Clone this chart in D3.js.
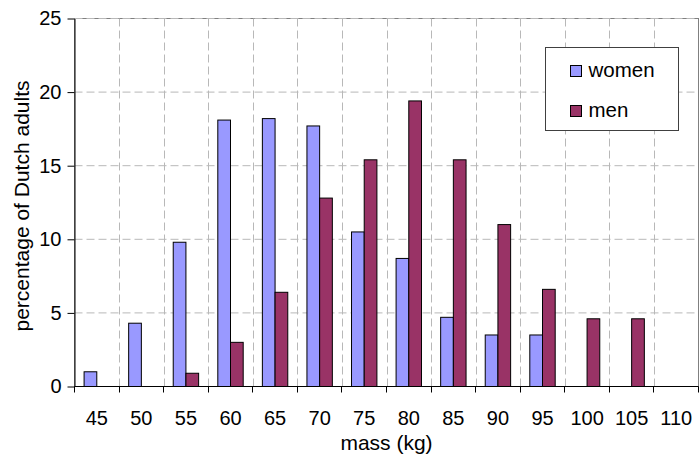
<!DOCTYPE html>
<html>
<head>
<meta charset="utf-8">
<script src="https://cdn.jsdelivr.net/npm/d3@7"></script>
<style>
  body { margin: 0; background: #fff; }
  svg text { font-family: "Liberation Sans", Arial, sans-serif; fill: #000; }
</style>
</head>
<body>
<div id="content"></div>
<script>
const width = 700;
const height = 459;

// data
const masses = ["45", "50", "55", "60", "65", "70", "75", "80", "85", "90", "95", "100", "105", "110"];
const series = ["women", "men"];
const women = [1.0, 4.3, 9.8, 18.1, 18.2, 17.7, 10.5, 8.7, 4.7, 3.5, 3.5, 0, 0, 0];
const men = [0, 0, 0.9, 3.0, 6.4, 12.8, 15.4, 19.4, 15.4, 11.0, 6.6, 4.6, 4.6, 0];
const yTicks = [0, 5, 10, 15, 20, 25];
const colors = {women: "#9999ff", men: "#993366"};

const margin = {top: 18.5, right: 1.5, bottom: 72.5, left: 74.5};

var svg = d3.select("#content").append("svg")
    .attr("width", width)
    .attr("height", height);

// scales
var x = d3.scaleBand().domain(masses).range([margin.left, width - margin.right]).padding(0);
var xs = d3.scaleBand().domain(series).range([0, x.bandwidth()])
    .paddingInner(0).paddingOuter(0.755);
var y = d3.scaleLinear().domain([0, 25]).range([height - margin.bottom, margin.top]);

var rows = masses.map((m, i) => ({mass: m, women: women[i], men: men[i]}));

var x0 = x.range()[0], x1 = x.range()[1];
var y0 = y.range()[0], y1 = y.range()[1];

// plot frame
svg.append("rect")
    .attr("x", x0).attr("y", y1)
    .attr("width", x1 - x0).attr("height", y0 - y1)
    .attr("fill", "none")
    .attr("stroke", "#808080");

// gridlines
var bounds = masses.slice(1).map(m => x(m)).concat([x1]);
svg.append("g").selectAll("line")
    .data(yTicks.slice(1))
    .join("line")
    .attr("x1", x0).attr("x2", x1)
    .attr("y1", d => y(d)).attr("y2", d => y(d))
    .attr("stroke", "#b8b8b8")
    .attr("stroke-dasharray", "8,4");

svg.append("g").selectAll("line")
    .data(bounds.slice(0, -1))
    .join("line")
    .attr("x1", d => Math.round(d) + 0.5).attr("x2", d => Math.round(d) + 0.5)
    .attr("y1", y1).attr("y2", y0)
    .attr("stroke", "#b8b8b8")
    .attr("stroke-dasharray", "8,4");

// bars
var groups = svg.append("g").selectAll("g")
    .data(rows)
    .join("g")
    .attr("transform", d => `translate(${x(d.mass)},0)`);

groups.selectAll("rect")
    .data(d => series.map(s => ({key: s, value: d[s]})).filter(v => v.value > 0))
    .join("rect")
    .attr("x", d => xs(d.key))
    .attr("y", d => y(d.value))
    .attr("width", xs.bandwidth())
    .attr("height", d => y(0) - y(d.value))
    .attr("fill", d => colors[d.key])
    .attr("stroke", "#000")
    .attr("stroke-width", 1);

// y axis
var yAxis = svg.append("g")
    .attr("transform", `translate(${x0},0)`)
    .call(d3.axisLeft(y).tickValues(yTicks).tickSize(7).tickPadding(6).tickSizeOuter(0));
yAxis.select(".domain").attr("stroke", "#000");
yAxis.selectAll("text").style("font-size", "20px");

// x axis: labels centred in bands, ticks on band edges
var xAxis = svg.append("g")
    .attr("transform", `translate(0,${y0})`)
    .call(d3.axisBottom(x).tickSize(0).tickPadding(24).tickSizeOuter(0));
xAxis.select(".domain").remove();
xAxis.selectAll("text").style("font-size", "20px");

svg.append("line")
    .attr("x1", x0).attr("x2", x1)
    .attr("y1", y0).attr("y2", y0)
    .attr("stroke", "#000");

svg.append("g").selectAll("line")
    .data([x0].concat(bounds))
    .join("line")
    .attr("x1", d => Math.round(d - 0.5) + 0.5).attr("x2", d => Math.round(d - 0.5) + 0.5)
    .attr("y1", y0).attr("y2", y0 + 6)
    .attr("stroke", "#000");

// axis titles
svg.append("text")
    .text("mass (kg)")
    .attr("x", (x0 + x1) / 2)
    .attr("y", 450)
    .attr("text-anchor", "middle")
    .style("font-size", "21px");

svg.append("text")
    .text("percentage of Dutch adults")
    .attr("transform", `translate(29, 206) rotate(-90)`)
    .attr("text-anchor", "middle")
    .style("font-size", "21px");

// legend
var legend = svg.append("g");
legend.append("rect")
    .attr("x", 545.5).attr("y", 47.5)
    .attr("width", 133).attr("height", 83)
    .attr("fill", "#fff")
    .attr("stroke", "#404040");

var items = legend.selectAll("g.item")
    .data(series)
    .join("g")
    .attr("class", "item")
    .attr("transform", (d, i) => `translate(570.5, ${65.5 + i * 40})`);

items.append("rect")
    .attr("width", 11).attr("height", 11)
    .attr("fill", d => colors[d])
    .attr("stroke", "#000");

items.append("text")
    .text(d => d)
    .attr("x", 18)
    .attr("y", 11.5)
    .style("font-size", "20.5px");
</script>
</body>
</html>
